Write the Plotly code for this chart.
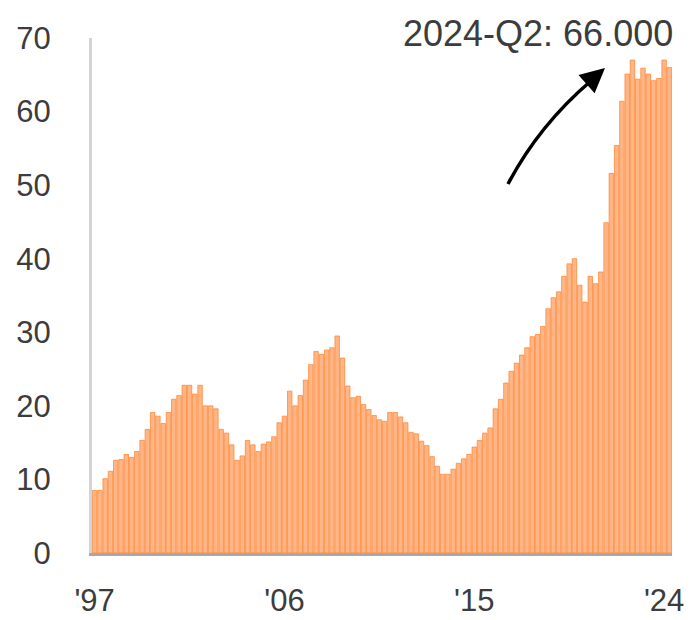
import plotly.graph_objects as go

years = list(range(1997, 2025))
quarters = [f"{y}-Q{q}" for y in years for q in range(1, 5)][:110]

values = [
    8.5, 8.5, 10.1, 11.1,      # 1997
    12.6, 12.7, 13.4, 13.0,    # 1998
    13.8, 15.3, 16.8, 19.1,    # 1999
    18.6, 17.6, 19.1, 20.9,    # 2000
    21.4, 22.8, 22.8, 21.6,    # 2001
    22.8, 20.0, 20.0, 19.6,    # 2002
    16.8, 16.3, 14.7, 12.6,    # 2003
    13.2, 15.3, 14.7, 13.8,    # 2004
    14.8, 15.1, 15.8, 17.7,    # 2005
    18.6, 22.0, 20.0, 21.4,    # 2006
    23.5, 25.6, 27.4, 27.0,    # 2007
    27.6, 27.9, 29.5, 26.5,    # 2008
    22.7, 21.1, 21.3, 20.2,    # 2009
    19.5, 18.7, 18.1, 17.9,    # 2010
    19.1, 19.1, 18.5, 17.7,    # 2011
    16.4, 16.2, 15.2, 14.6,    # 2012
    13.1, 11.8, 10.7, 10.7,    # 2013
    11.4, 12.2, 12.8, 13.4,    # 2014
    14.4, 15.3, 16.3, 17.0,    # 2015
    19.6, 20.9, 23.1, 24.7,    # 2016
    25.8, 26.9, 27.9, 29.4,    # 2017
    29.7, 30.8, 33.2, 34.7,    # 2018
    35.5, 37.6, 39.3, 40.0,    # 2019
    36.4, 34.1, 37.6, 36.6,    # 2020
    38.2, 44.9, 51.6, 55.4,    # 2021
    61.4, 65.1, 67.0, 64.4,    # 2022
    65.9, 65.1, 64.2, 64.5,    # 2023
    67.0, 66.0,                # 2024
]

tick_vals = ["1997-Q1", "2006-Q1", "2015-Q1", "2024-Q1"]
tick_text = ["'97", "'06", "'15", "'24"]
y_ticks = [0, 10, 20, 30, 40, 50, 60, 70]
annotation_text = f"{quarters[-1]}: {values[-1]:.3f}"

fig = go.Figure()
fig.add_trace(go.Bar(
    x=quarters, y=values,
    marker=dict(color="#FFB687", line=dict(color="#FF7F2A", width=0.7)),
    hoverinfo="x+y",
))

# the page body adds an 8px offset, so the figure is 8px smaller
font_family = "Liberation Sans, Arial, sans-serif"
fig.update_layout(
    width=684, height=612,
    margin=dict(l=84, r=20, t=30, b=67),
    plot_bgcolor="white", paper_bgcolor="white",
    bargap=0.15,
    showlegend=False,
    font=dict(family=font_family, size=31, color="#3C3C3C"),
    xaxis=dict(
        type="category", automargin=False,
        categoryorder="array", categoryarray=quarters,
        tickmode="array", tickvals=tick_vals, ticktext=tick_text,
        ticks="outside", ticklen=18, tickcolor="rgba(0,0,0,0)",
        showline=True, linecolor="#A8A8A8", linewidth=3,
        showgrid=False, zeroline=False,
        tickfont=dict(size=31, color="#3C3C3C"),
    ),
    yaxis=dict(
        range=[0, 70], automargin=False,
        tickmode="array", tickvals=y_ticks,
        ticks="outside", ticklen=32, tickcolor="rgba(0,0,0,0)",
        showline=True, linecolor="#D4D4D4", linewidth=3,
        showgrid=False, zeroline=False,
        tickfont=dict(size=31, color="#3C3C3C"),
    ),
)

# Curved annotation arrow (paper coordinates relative to plot area)
def px(xp):
    return (xp - 92) / 580.0

def py(yp):
    return (553 - yp) / 515.0

p0 = (508, 184)
c = (539, 125)
p2 = (592, 80)
fig.add_shape(
    type="path", xref="paper", yref="paper",
    path=f"M {px(p0[0])},{py(p0[1])} Q {px(c[0])},{py(c[1])} {px(p2[0])},{py(p2[1])}",
    line=dict(color="black", width=3.5),
)
fig.add_annotation(
    xref="paper", yref="paper", x=px(605), y=py(68),
    ax=-16, ay=14, axref="pixel", ayref="pixel",
    text="", showarrow=True, arrowhead=2, arrowsize=1.4, arrowwidth=3.5,
    arrowcolor="black",
)
fig.add_annotation(
    xref="paper", yref="paper", x=1.0, y=py(33), xshift=3,
    xanchor="right", yanchor="middle",
    text=annotation_text, showarrow=False,
    font=dict(family=font_family, size=36, color="#3C3C3C"),
)

fig.write_html("out.html")
